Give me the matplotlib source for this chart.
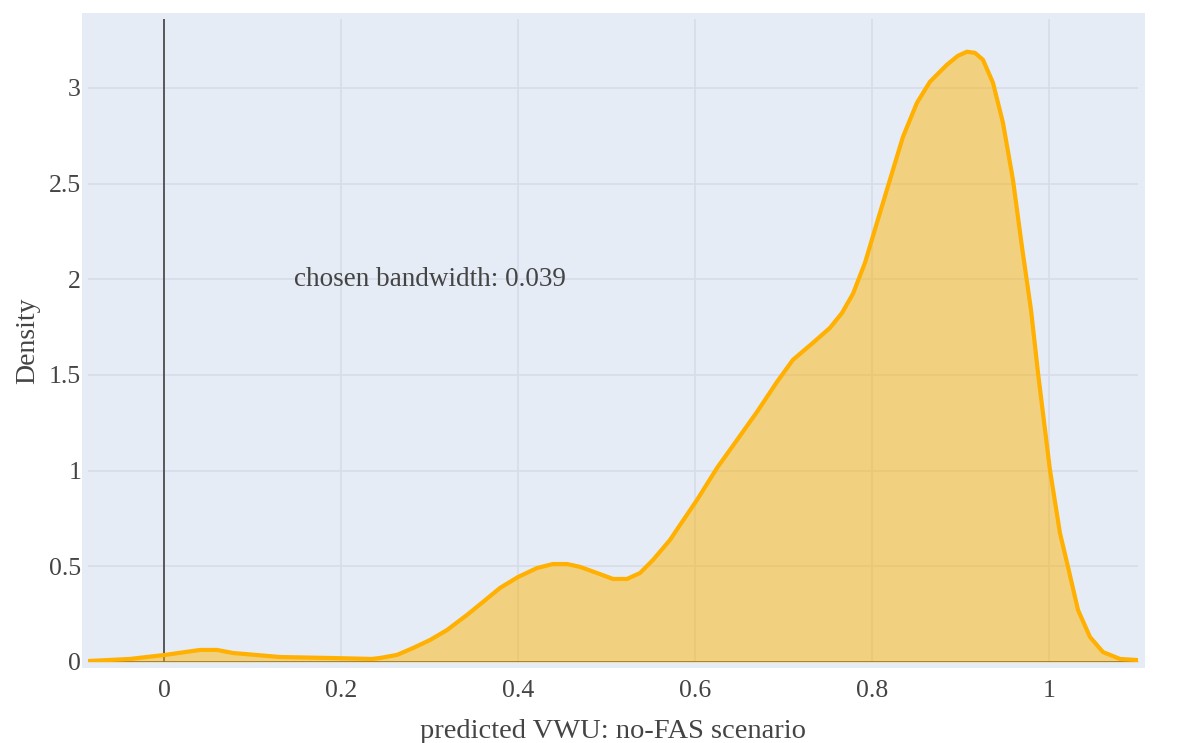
import matplotlib
matplotlib.use("Agg")
import matplotlib.pyplot as plt
from matplotlib.patches import Rectangle

# Kernel density estimate of predicted VWU (no-FAS scenario)
vwu = [-0.0859, -0.0384, 0.0011, 0.0407, 0.0599, 0.0780, 0.1311, 0.1876,
       0.2350, 0.2441, 0.2633, 0.2814, 0.3006, 0.3198, 0.3424, 0.3605,
       0.3797, 0.4000, 0.4215, 0.4395, 0.4554, 0.4701, 0.4893, 0.5073,
       0.5232, 0.5379, 0.5525, 0.5718, 0.5831, 0.6023, 0.6249, 0.6475,
       0.6701, 0.6927, 0.7107, 0.7333, 0.7525, 0.7661, 0.7785, 0.7921,
       0.8056, 0.8203, 0.8350, 0.8508, 0.8655, 0.8847, 0.8972, 0.9073,
       0.9164, 0.9254, 0.9367, 0.9480, 0.9593, 0.9695, 0.9797, 0.9876,
       1.0011, 1.0124, 1.0215, 1.0328, 1.0463, 1.0610, 1.0802, 1.1006]
density = [0.005, 0.016, 0.037, 0.063, 0.063, 0.047, 0.026, 0.021,
           0.016, 0.021, 0.037, 0.073, 0.115, 0.167, 0.246, 0.314,
           0.387, 0.444, 0.491, 0.512, 0.512, 0.497, 0.465, 0.434,
           0.434, 0.465, 0.533, 0.638, 0.716, 0.847, 1.014, 1.160,
           1.307, 1.464, 1.579, 1.668, 1.746, 1.824, 1.924, 2.086,
           2.295, 2.520, 2.744, 2.922, 3.032, 3.121, 3.168, 3.189,
           3.183, 3.147, 3.027, 2.818, 2.520, 2.169, 1.840, 1.511,
           1.004, 0.674, 0.497, 0.272, 0.131, 0.052, 0.016, 0.010]

x_ticks = [0, 0.2, 0.4, 0.6, 0.8, 1]
x_tick_labels = ["0", "0.2", "0.4", "0.6", "0.8", "1"]
y_ticks = [0, 0.5, 1, 1.5, 2, 2.5, 3]
y_tick_labels = ["0", "0.5", "1", "1.5", "2", "2.5", "3"]
bandwidth = 0.039

plt.rcParams["font.family"] = ["Liberation Serif", "DejaVu Serif"]
text_color = "#444444"
bg_color = "#E5ECF6"
grid_color = "#D6DDE8"

W, H = 1203, 743
fig = plt.figure(figsize=(W / 100, H / 100), dpi=100)

# padded plot background
fig.patches.append(Rectangle((82 / W, 1 - 668 / H), (1145 - 82) / W, (668 - 13) / H,
                             transform=fig.transFigure, facecolor=bg_color,
                             edgecolor="none", zorder=-10))

ax = fig.add_axes([88 / W, 1 - 662 / H, (1138 - 88) / W, (662 - 19) / H])
ax.set_zorder(5)
ax.patch.set_alpha(0)
for s in ax.spines.values():
    s.set_visible(False)

ax.set_xlim(-0.0859, 1.1006)
ax.set_ylim(0, 3.36)
ax.set_xticks(x_ticks)
ax.set_xticklabels(x_tick_labels)
ax.set_yticks(y_ticks)
ax.set_yticklabels(y_tick_labels)
ax.tick_params(length=0, labelsize=18.5, colors=text_color, pad=5)
ax.tick_params(axis="x", pad=13)
ax.grid(True, color=grid_color, linewidth=1.2)
ax.set_axisbelow(True)

ax.axvline(0, color="#333333", linewidth=1.1, zorder=1)
ax.axhline(0, color="#333333", linewidth=1.1, zorder=1)

ax.fill_between(vwu, density, 0, color="#FFB400", alpha=0.48, linewidth=0, zorder=2)
ax.plot(vwu, density, color="#FFB000", linewidth=3, solid_joinstyle="round",
        solid_capstyle="round", zorder=3)

ax.text(0.3, 2.0, f"chosen bandwidth: {bandwidth}", ha="center", va="center",
        fontsize=19.5, color=text_color)

ax.set_xlabel("predicted VWU: no-FAS scenario", fontsize=20.5, color=text_color, labelpad=12)
ax.set_ylabel("Density", fontsize=20, color=text_color, labelpad=6)

fig.savefig("out.png", dpi=100)
